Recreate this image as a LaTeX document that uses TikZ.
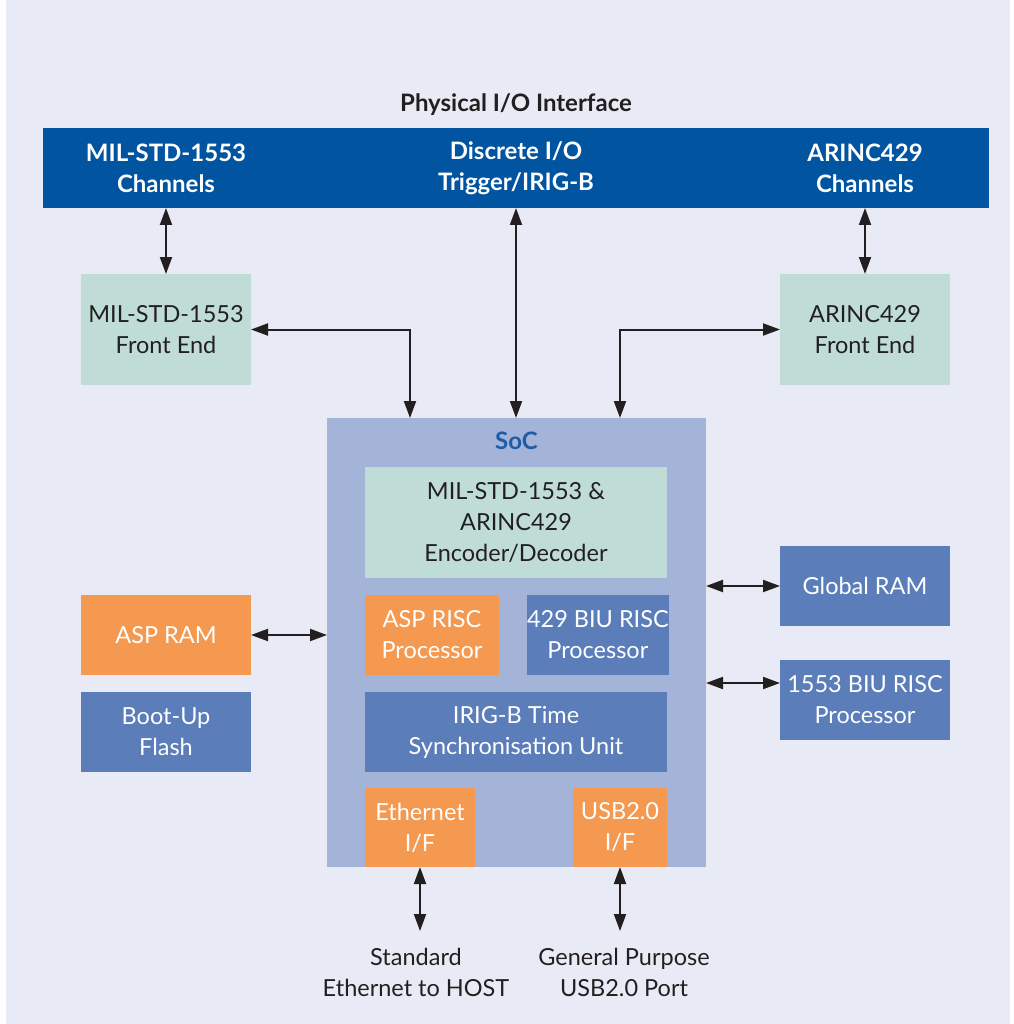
\documentclass[tikz,border=0pt]{standalone}
\usepackage{fontspec}
\setmainfont{Lato}
\usetikzlibrary{arrows.meta,calc}
\definecolor{bgc}{HTML}{E8EBF5}
\definecolor{barblue}{HTML}{0054A0}
\definecolor{teal}{HTML}{BFDDD6}
\definecolor{socc}{HTML}{A4B3D8}
\definecolor{orng}{HTML}{F4994F}
\definecolor{midblue}{HTML}{5B7DBA}
\definecolor{txt}{HTML}{231F20}
\definecolor{soctxt}{HTML}{1F5CA8}
\tikzset{
  every node/.style={inner sep=0pt, outer sep=0pt, align=center, font=\fontsize{23.5}{31}\selectfont},
  boldtxt/.style={font=\fontsize{24}{31}\selectfont\bfseries},
  tealbox/.style={fill=teal, text=txt},
  orbox/.style={fill=orng, text=white},
  bluebox/.style={fill=midblue, text=white},
  arr/.style={line width=2pt, draw=txt, {Triangle[length=17pt,width=12pt]}-{Triangle[length=17pt,width=12pt]}},
}
\newcommand{\bx}[7]{% name, style, x1, y1, x2, y2, text
  \node[#2, anchor=north west, minimum width={#5-#3}, minimum height={#6-#4}] (#1) at (#3,#4) {#7};}
\begin{document}
\begin{tikzpicture}[x=1pt,y=-1pt]
\useasboundingbox (0,0) rectangle (1013,1024);
\fill[white] (0,0) rectangle (1013,1024);
\fill[bgc] (6,0) rectangle (1010,1024);
\node[boldtxt, text=txt] (title) at (516,105) {Physical I/O Interface};
\bx{bar}{fill=barblue}{43}{128}{989}{208}{}
\node[boldtxt, text=white] (t1) at (166,168) {MIL-STD-1553\\Channels};
\node[boldtxt, text=white] (t2) at (516,168) {Discrete I/O\\Trigger/IRIG-B};
\node[boldtxt, text=white] (t3) at (865,168) {ARINC429\\Channels};
\bx{fe1}{tealbox}{81}{274}{251}{385}{MIL-STD-1553\\Front End}
\bx{fe2}{tealbox}{780}{274}{950}{385}{ARINC429\\Front End}
\bx{soc}{fill=socc}{327}{418}{706}{867}{}
\node[boldtxt, text=soctxt] (soclbl) at (516.5,441) {SoC};
\bx{enc}{tealbox}{365}{467}{667}{578}{MIL-STD-1553 \&\\ARINC429\\Encoder/Decoder}
\bx{asp}{orbox}{365}{595}{499}{675}{ASP RISC\\Processor}
\bx{biu}{bluebox}{527}{595}{667}{675}{429 BIU RISC\\Processor}
\bx{irig}{bluebox}{365}{692}{667}{772}{IRIG-B Time\\Synchronisation Unit}
\bx{eth}{orbox}{365}{788}{475}{867}{Ethernet\\I/F}
\bx{usb}{orbox}{573}{788}{667}{867}{USB2.0\\I/F}
\bx{aspram}{orbox}{81}{595}{251}{675}{ASP RAM}
\bx{boot}{bluebox}{81}{692}{251}{772}{Boot-Up\\Flash}
\bx{gram}{bluebox}{780}{546}{950}{626}{Global RAM}
\bx{b15}{bluebox}{780}{660}{950}{740}{1553 BIU RISC\\Processor}
\node[text=txt] (lbl1) at (416,972) {Standard\\Ethernet to HOST};
\node[text=txt] (lbl2) at (624,972) {General Purpose\\USB2.0 Port};
% connectors
\coordinate (s1) at (410,418);
\coordinate (s2) at (620,418);
\coordinate (b15p) at (780,683);
\coordinate (e1) at (420,931);
\coordinate (e2) at (620,931);
\draw[arr] (fe1.north) -- (fe1.north |- bar.south);
\draw[arr] (fe2.north) -- (fe2.north |- bar.south);
\draw[arr] (bar.south) -- (bar.south |- soc.north);
\draw[arr] (fe1.east) -| (s1);
\draw[arr] (fe2.west) -| (s2);
\draw[arr] (aspram.east) -- (aspram.east -| soc.west);
\draw[arr] (gram.west) -- (gram.west -| soc.east);
\draw[arr] (b15p) -- (b15p -| soc.east);
\draw[arr] (eth.south -| e1) -- (e1);
\draw[arr] (usb.south) -- (e2);
\end{tikzpicture}
\end{document}
